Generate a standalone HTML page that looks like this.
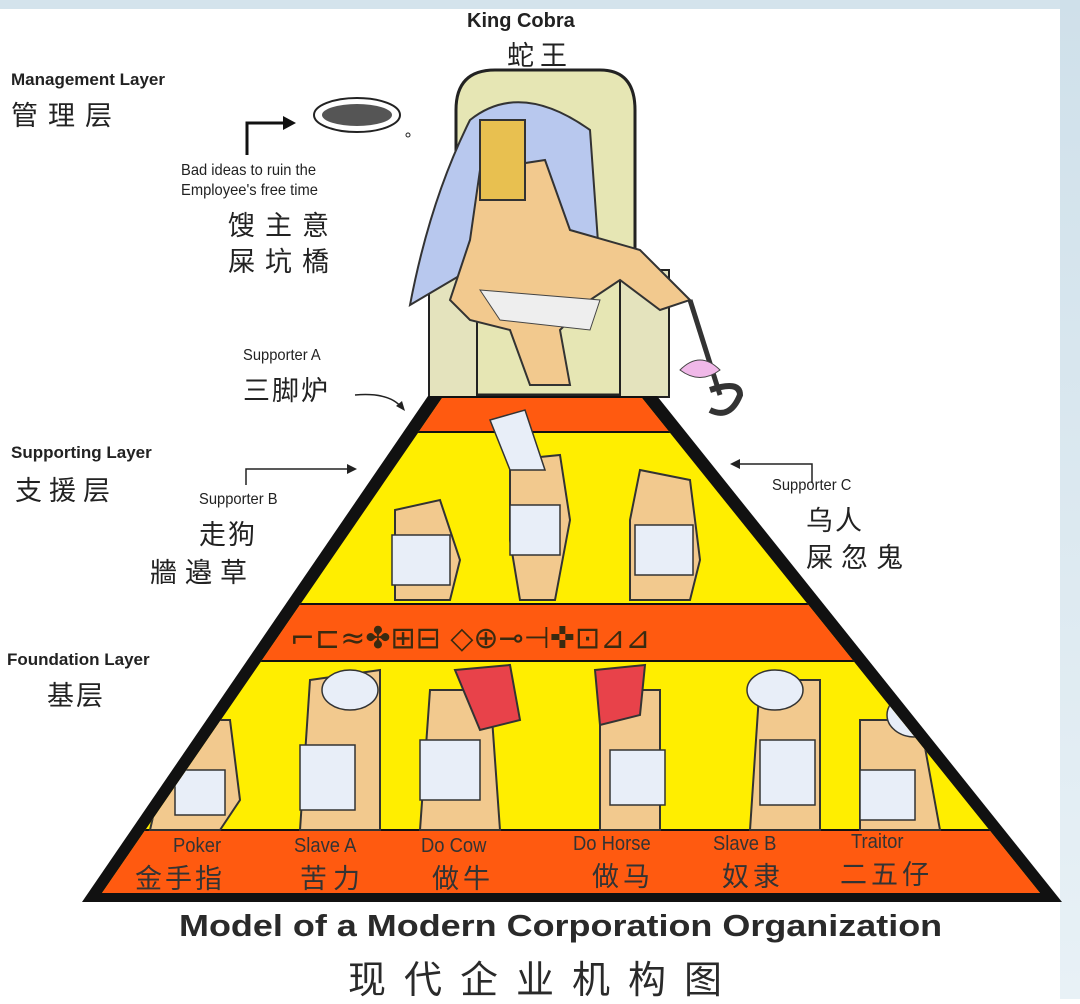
<!DOCTYPE html>
<html><head><meta charset="utf-8"><style>
html,body{margin:0;padding:0;background:#fff}
body{width:1080px;height:999px;position:relative;overflow:hidden;font-family:"Liberation Sans","Noto Sans CJK SC",sans-serif}
.t{position:absolute;white-space:nowrap;color:#222;transform-origin:0 0}
.en{font-size:17px;font-weight:bold}
.sm{font-size:16px;transform:scaleX(0.92)}
.cn{font-size:27px;letter-spacing:6px}
.lb{font-size:20px;color:#333;transform:scaleX(0.92)}
</style></head><body>
<svg width="1080" height="999" style="position:absolute;left:0;top:0">
<defs>
<linearGradient id="bg" x1="0" x2="0" y1="0" y2="1"><stop offset="0" stop-color="#cfe0ea"/><stop offset="1" stop-color="#e8f1f6"/></linearGradient>
<clipPath id="pyr"><polygon points="442,398 642,398 1040,893 102,893"/></clipPath>
</defs>
<rect x="0" y="0" width="1080" height="9" fill="#d4e3ec"/>
<rect x="1060" y="0" width="20" height="999" fill="url(#bg)"/>
<path d="M456,395 L456,110 Q456,70 495,70 L600,70 Q635,70 635,110 L635,395 Z" fill="#e6e6b4" stroke="#222" stroke-width="3"/>
<rect x="429" y="270" width="48" height="127" fill="#e4e3bd" stroke="#222" stroke-width="2"/>
<rect x="620" y="270" width="49" height="127" fill="#e4e3bd" stroke="#222" stroke-width="2"/>
<path d="M470,120 Q520,80 590,130 L600,270 Q560,250 520,240 L410,305 Q430,200 470,120Z" fill="#b8c8ee" stroke="#333" stroke-width="2"/>
<path d="M480,170 L545,160 L570,230 L640,250 L690,300 L660,310 L620,280 L590,300 L560,330 L570,385 L530,385 L510,330 L470,320 L450,300 L470,240 Z" fill="#f2c98e" stroke="#333" stroke-width="2"/>
<rect x="480" y="120" width="45" height="80" fill="#e8c050" stroke="#333" stroke-width="2"/>
<path d="M480,290 L600,300 L590,330 L500,320Z" fill="#eee" stroke="#444"/>
<path d="M690,300 L720,395" stroke="#333" stroke-width="5"/>
<path d="M680,370 Q700,350 720,370 Q700,385 680,370Z" fill="#f0b8e8" stroke="#444"/>
<path d="M710,390 Q740,380 740,395 Q730,420 710,410" fill="none" stroke="#333" stroke-width="6"/>
<ellipse cx="357" cy="115" rx="43" ry="17" fill="#fff" stroke="#222" stroke-width="2"/>
<ellipse cx="357" cy="115" rx="35" ry="11" fill="#555"/>
<circle cx="408" cy="135" r="2" fill="none" stroke="#222"/>
<path d="M247,155 L247,123 L284,123" fill="none" stroke="#111" stroke-width="3"/>
<polygon points="296,123 283,116 283,130" fill="#111"/>
<path d="M355,395 Q390,392 402,408" fill="none" stroke="#222" stroke-width="1.5"/>
<polygon points="405,411 396,406 402,401" fill="#222"/>
<path d="M246,485 L246,469 L352,469" fill="none" stroke="#222" stroke-width="1.5"/>
<polygon points="357,469 347,464 347,474" fill="#222"/>
<path d="M812,483 L812,464 L738,464" fill="none" stroke="#222" stroke-width="1.5"/>
<polygon points="730,464 740,459 740,469" fill="#222"/>
<polygon points="428,396 657,396 1062,902 82,902" fill="#111"/>
<g clip-path="url(#pyr)">
<rect x="0" y="390" width="1080" height="520" fill="#ffee00"/>
<rect x="0" y="396" width="1080" height="36" fill="#ff5a10"/>
<rect x="0" y="431" width="1080" height="2" fill="#111"/>
<rect x="0" y="603" width="1080" height="2" fill="#111"/>
<rect x="0" y="605" width="1080" height="55" fill="#ff5a10"/>
<rect x="0" y="660" width="1080" height="2" fill="#111"/>
<rect x="0" y="829" width="1080" height="2" fill="#111"/>
<rect x="0" y="831" width="1080" height="65" fill="#ff5a10"/>
<text x="290" y="648" font-size="30" fill="#3a2a10" font-family="DejaVu Sans,sans-serif">⌐⊏≈✤⊞⊟ ◇⊕⊸⊣✜⊡⊿⊿</text>
<g fill="#f2c98e" stroke="#333" stroke-width="2">
<path d="M395,510 L440,500 L460,560 L450,600 L395,600 Z"/>
<path d="M510,460 L560,455 L570,520 L555,600 L520,600 L510,540Z"/>
<path d="M640,470 L690,480 L700,560 L690,600 L630,600 L630,520Z"/>
</g>
<g fill="#e8eef8" stroke="#333" stroke-width="1.5">
<rect x="392" y="535" width="58" height="50"/>
<rect x="510" y="505" width="50" height="50"/>
<rect x="635" y="525" width="58" height="50"/>
<path d="M490,420 L525,410 L545,470 L510,470Z"/>
</g>
<g fill="#f2c98e" stroke="#333" stroke-width="2">
<path d="M175,720 L230,720 L240,800 L220,830 L150,830 Z"/>
<path d="M310,680 L380,670 L380,830 L300,830 Z"/>
<path d="M430,690 L490,690 L500,830 L420,830 Z"/>
<path d="M600,690 L660,690 L660,830 L600,830 Z"/>
<path d="M760,680 L820,680 L820,830 L750,830 Z"/>
<path d="M860,720 L920,720 L940,830 L860,830 Z"/>
</g>
<g fill="#e8eef8" stroke="#333" stroke-width="1.5">
<rect x="175" y="770" width="50" height="45"/>
<rect x="300" y="745" width="55" height="65"/>
<rect x="420" y="740" width="60" height="60"/>
<rect x="610" y="750" width="55" height="55"/>
<rect x="760" y="740" width="55" height="65"/>
<rect x="860" y="770" width="55" height="50"/>
<ellipse cx="190" cy="710" rx="25" ry="22"/>
<ellipse cx="350" cy="690" rx="28" ry="20"/>
<ellipse cx="775" cy="690" rx="28" ry="20"/>
<ellipse cx="915" cy="715" rx="28" ry="22"/>
</g>
<g fill="#e8424a" stroke="#333" stroke-width="2">
<path d="M455,670 L510,665 L520,720 L480,730 Z"/>
<path d="M595,670 L645,665 L640,715 L600,725 Z"/>
</g>
</g>
</svg>
<div class="t en" style="left:467px;top:10px;font-size:20px">King Cobra</div>
<div class="t cn" style="left:507px;top:34px">蛇王</div>
<div class="t en" style="left:11px;top:70px">Management Layer</div>
<div class="t cn" style="left:11px;top:94px;letter-spacing:10px">管理层</div>
<div class="t sm" style="left:181px;top:162px">Bad ideas to ruin the</div>
<div class="t sm" style="left:181px;top:182px">Employee's free time</div>
<div class="t cn" style="left:228px;top:204px;letter-spacing:10px">馊主意</div>
<div class="t cn" style="left:228px;top:240px;letter-spacing:10px">屎坑橋</div>
<div class="t sm" style="left:243px;top:347px">Supporter A</div>
<div class="t cn" style="left:243px;top:369px;letter-spacing:2px">三脚炉</div>
<div class="t en" style="left:11px;top:443px">Supporting Layer</div>
<div class="t cn" style="left:15px;top:469px;letter-spacing:7px">支援层</div>
<div class="t sm" style="left:199px;top:491px">Supporter B</div>
<div class="t cn" style="left:199px;top:513px;letter-spacing:2px">走狗</div>
<div class="t cn" style="left:150px;top:551px;letter-spacing:8px">牆邉草</div>
<div class="t sm" style="left:772px;top:477px">Supporter C</div>
<div class="t cn" style="left:806px;top:499px;letter-spacing:2px">乌人</div>
<div class="t cn" style="left:806px;top:536px;letter-spacing:8px">屎忽鬼</div>
<div class="t en" style="left:7px;top:650px">Foundation Layer</div>
<div class="t cn" style="left:47px;top:674px;letter-spacing:2px">基层</div>
<div class="t lb" style="left:173px;top:835px">Poker</div>
<div class="t cn" style="left:135px;top:857px;color:#333;letter-spacing:3px">金手指</div>
<div class="t lb" style="left:294px;top:835px">Slave A</div>
<div class="t cn" style="left:300px;top:857px;color:#333;letter-spacing:6px">苦力</div>
<div class="t lb" style="left:421px;top:835px">Do Cow</div>
<div class="t cn" style="left:432px;top:857px;color:#333;letter-spacing:4px">做牛</div>
<div class="t lb" style="left:573px;top:833px">Do Horse</div>
<div class="t cn" style="left:592px;top:855px;color:#333;letter-spacing:4px">做马</div>
<div class="t lb" style="left:713px;top:833px">Slave B</div>
<div class="t cn" style="left:722px;top:855px;color:#333;letter-spacing:4px">奴隶</div>
<div class="t lb" style="left:851px;top:831px">Traitor</div>
<div class="t cn" style="left:840px;top:853px;color:#333;letter-spacing:4px">二五仔</div>
<div class="t" style="left:179px;top:908px;font-size:31px;font-weight:bold;color:#2a2a2a;transform:scaleX(1.16)">Model of a Modern Corporation Organization</div>
<div class="t" style="left:348px;top:949px;font-size:38px;letter-spacing:18px;color:#2a2a2a">现代企业机构图</div>
</body></html>
